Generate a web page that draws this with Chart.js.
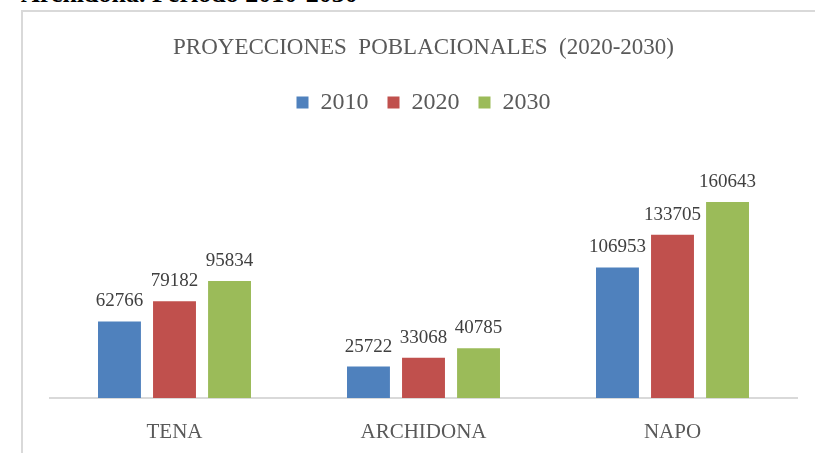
<!DOCTYPE html>
<html>
<head>
<meta charset="utf-8">
<script src="https://cdn.jsdelivr.net/npm/chart.js@4"></script>
<style>
  html, body { margin: 0; padding: 0; background: #fff; }
  body { width: 815px; height: 453px; position: relative; overflow: hidden; }
  .caption {
    position: absolute; left: 21px; top: -19px;
    font: bold 26px "Liberation Serif", serif; line-height: 26px; color: #000;
    white-space: nowrap;
  }
  .frame {
    position: absolute; left: 21px; top: 10px; width: 800px; height: 450px;
    border-left: 2px solid #d9d9d9; border-top: 2px solid #d9d9d9;
  }
  #chart { position: absolute; left: 0; top: 0; }
</style>
</head>
<body>
<div class="caption">Archidona. Periodo 2010-2030</div>
<div class="frame"></div>
<canvas id="chart" width="815" height="453"></canvas>
<script>
const cantones = ['TENA', 'ARCHIDONA', 'NAPO'];
const pob2010 = [62766, 25722, 106953];
const pob2020 = [79182, 33068, 133705];
const pob2030 = [95834, 40785, 160643];

// etiquetas de valor encima de cada barra
const valueLabels = {
  id: 'valueLabels',
  afterDatasetsDraw(chart) {
    const ctx = chart.ctx;
    ctx.save();
    ctx.font = '19px "Liberation Serif", serif';
    ctx.fillStyle = '#404040';
    ctx.textAlign = 'center';
    ctx.textBaseline = 'alphabetic';
    chart.data.datasets.forEach((ds, i) => {
      chart.getDatasetMeta(i).data.forEach((bar, j) => {
        ctx.fillText(String(ds.data[j]), bar.x, bar.y - 15);
      });
    });
    ctx.restore();
  }
};

new Chart(document.getElementById('chart').getContext('2d'), {
  type: 'bar',
  data: {
    labels: cantones,
    datasets: [
      { label: '2010', data: pob2010, backgroundColor: '#4f81bd' },
      { label: '2020', data: pob2020, backgroundColor: '#c0504d' },
      { label: '2030', data: pob2030, backgroundColor: '#9bbb59' }
    ]
  },
  options: {
    responsive: false,
    animation: false,
    categoryPercentage: 0.663,
    barPercentage: 0.78,
    layout: { padding: { left: 50, right: 18, top: 0, bottom: 0 } },
    plugins: {
      title: {
        display: true,
        text: 'PROYECCIONES  POBLACIONALES  (2020-2030)',
        color: '#595959',
        font: { family: '"Liberation Serif", serif', size: 23, weight: 'normal' },
        padding: { top: 34, bottom: 10 }
      },
      legend: {
        position: 'top',
        labels: {
          color: '#595959',
          font: { family: '"Liberation Serif", serif', size: 24 },
          boxWidth: 12,
          boxHeight: 12,
          padding: 19
        }
      },
      tooltip: { enabled: false }
    },
    scales: {
      x: {
        grid: { display: false, drawTicks: false },
        border: { display: true, color: '#d9d9d9', width: 2 },
        ticks: {
          color: '#595959',
          font: { family: '"Liberation Serif", serif', size: 21 },
          padding: 22
        },
        afterFit(scale) { scale.height = 55; }
      },
      y: {
        display: false,
        min: 0,
        max: 224000
      }
    }
  },
  plugins: [valueLabels]
});
</script>
</body>
</html>
